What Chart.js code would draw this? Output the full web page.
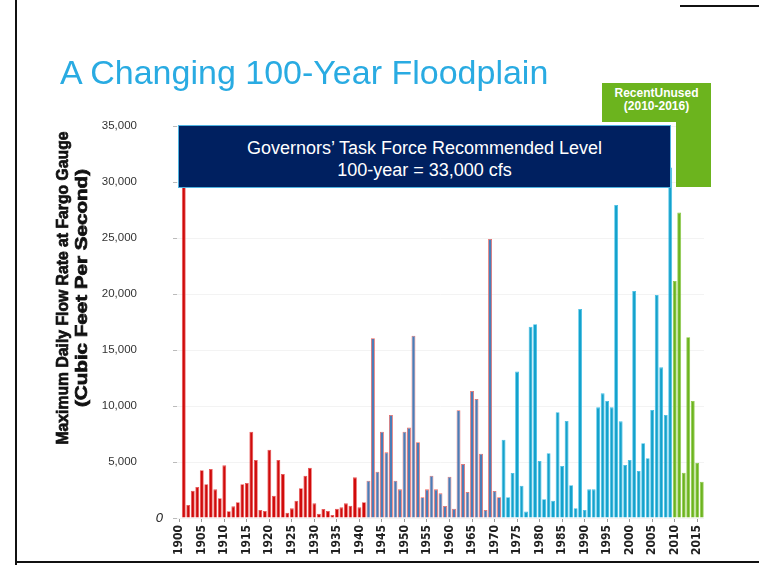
<!DOCTYPE html>
<html>
<head>
<meta charset="utf-8">
<script src="https://cdn.jsdelivr.net/npm/chart.js@4.4.1/dist/chart.umd.min.js"></script>
<style>
  html, body { margin: 0; padding: 0; background: #fff; }
  #wrap { position: relative; width: 759px; height: 565px; overflow: hidden; }
  #floodChart { position: absolute; left: 0; top: 0; }
  .title {
    position: absolute; left: 60px; top: 53px; margin: 0;
    font: 34px 'Liberation Sans', Arial, sans-serif; color: #29abe2; white-space: nowrap;
  }
  .taskForce {
    position: absolute; left: 178px; top: 125px; width: 491px; height: 61px;
    background: #002060; border: 1px solid #4fb3e0; color: #fff;
    font: 18px 'Liberation Sans', Arial, sans-serif; line-height: 22px; text-align: center;
  }
  .taskForce div:first-child { margin-top: 11px; }
  .recentTop {
    position: absolute; left: 602px; top: 83px; width: 109px; height: 39px;
    background: #6cb41e; color: #fff; text-align: center;
    font: bold 12px 'Liberation Sans', Arial, sans-serif; line-height: 13px;
  }
  .recentTop div:first-child { margin-top: 4px; }
  .recentCol { position: absolute; left: 676px; top: 83px; width: 35px; height: 104px; background: #6cb41e; }
  .frame { position: absolute; background: #111; }
</style>
</head>
<body>
<div id="wrap">
  <canvas id="floodChart" width="759" height="565"></canvas>
  <h1 class="title">A Changing 100-Year Floodplain</h1>
  <div class="taskForce">
    <div>Governors’ Task Force Recommended Level</div>
    <div>100-year = 33,000 cfs</div>
  </div>
  <div class="recentCol"></div>
  <div class="recentTop">
    <div>RecentUnused</div>
    <div>(2010-2016)</div>
  </div>
  <div class="frame" style="left:15px;top:0;width:2px;height:565px"></div>
  <div class="frame" style="left:15px;top:561px;width:744px;height:2px"></div>
  <div class="frame" style="left:680px;top:5px;width:79px;height:2px"></div>
</div>
<script>
const firstYear = 1900;
const lastYear = 2016;
const years = [];
for (let y = firstYear; y <= lastYear; y++) years.push(String(y));

// 1900-1941
const earlyValues = [
  null, 29600, 1160, 2440, 2770, 4260, 3010, 4380, 2560, 1760,
  4700, 600, 1040, 1400, 3010, 3130, 7710, 5180, 710, 620,
  6100, 1990, 5180, 3930, 470, 860, 1550, 2650, 3780, 4490,
  1310, 390, 800, 620, 270, 830, 950, 1310, 1100, 3630,
  950, 1400
];
// 1942-1971
const midValues = [
  3330, 16050, 4140, 7710, 5860, 9200, 3330, 2560, 7710, 8070,
  16280, 6760, 1850, 2560, 3780, 2560, 2200, 1070, 3690, 830,
  9620, 4820, 2320, 11340, 10630, 5740, 710, 24910, 2410, 1850
];
// 1972-2009
const lateValues = [
  6990, 1850, 4020, 13070, 2890, 570, 17080, 17300, 5090, 1670,
  5780, 1550, 9440, 4640, 8660, 2920, 870, 18660, 710, 2560,
  2560, 9880, 11130, 10450, 9880, 27950, 8630, 4730, 5180, 20270,
  4200, 6670, 5330, 9640, 19910, 13450, 9200, 31300
];
// 2010-2016
const recentValues = [21160, 27270, 4050, 16140, 10450, 4940, 3240];

const yTicks = [0, 5000, 10000, 15000, 20000, 25000, 30000, 35000];

const eras = [
  { values: earlyValues, fill: '#d00a0a', edge: '#e85050' },
  { values: midValues, fill: '#4a7db8', edge: '#f0635c' },
  { values: lateValues, fill: '#14a2cc', edge: '#3cbde6' },
  { values: recentValues, fill: '#6cb41e', edge: '#85c63c' }
];

const flowData = [];
const fills = [];
const edges = [];
eras.forEach((era) => {
  era.values.forEach((v) => {
    flowData.push(v);
    fills.push(era.fill);
    edges.push(era.edge);
  });
});

const sans = "'Liberation Sans', Arial, sans-serif";
const condensed = "'DejaVu Sans Condensed', 'Liberation Sans', sans-serif";

const extras = {
  id: 'extras',
  afterDraw(chart) {
    const ctx = chart.ctx;
    const yScale = chart.scales.y;
    ctx.save();
    // italic zero label
    ctx.fillStyle = '#222';
    ctx.font = 'italic 13px ' + sans;
    ctx.textAlign = 'right';
    ctx.textBaseline = 'middle';
    ctx.fillText('0', 163, yScale.getPixelForValue(0));

    // y axis title, two rotated lines
    const lines = ['Maximum Daily Flow Rate at Fargo Gauge', '(Cubic Feet Per Second)'];
    const widths = [313, 238];
    const xs = [64, 83];
    ctx.font = 'bold 16px ' + sans;
    ctx.fillStyle = '#111';
    ctx.strokeStyle = '#111';
    ctx.lineWidth = 0.7;
    ctx.textAlign = 'center';
    lines.forEach((t, i) => {
      const w = ctx.measureText(t).width;
      ctx.save();
      ctx.translate(xs[i], 288);
      ctx.rotate(-Math.PI / 2);
      ctx.scale(widths[i] / w, 1);
      ctx.fillText(t, 0, 0);
      ctx.strokeText(t, 0, 0);
      ctx.restore();
    });
    ctx.restore();
  }
};

new Chart(document.getElementById('floodChart'), {
  type: 'bar',
  data: {
    labels: years,
    datasets: [{
      data: flowData,
      backgroundColor: fills,
      borderColor: edges,
      borderWidth: 0.8,
      barPercentage: 0.86,
      categoryPercentage: 1
    }]
  },
  options: {
    responsive: false,
    animation: false,
    layout: { padding: { left: 0, right: 55, top: 126, bottom: 0 } },
    plugins: {
      legend: { display: false },
      tooltip: { enabled: false }
    },
    scales: {
      x: {
        afterFit: (scale) => { scale.height = 47; },
        border: { display: false },
        grid: {
          offset: false,
          drawOnChartArea: false,
          tickLength: 4,
          tickColor: (c) => (Number(years[c.index]) % 5 === 0 ? '#999' : 'rgba(0,0,0,0)')
        },
        ticks: {
          autoSkip: false,
          minRotation: 90,
          maxRotation: 90,
          padding: 3,
          color: '#222',
          font: { family: condensed, size: 12, weight: 'bold' },
          callback: (v, i) => (Number(years[i]) % 5 === 0 ? years[i] : '')
        }
      },
      y: {
        min: 0,
        max: 35000,
        afterFit: (scale) => { scale.width = 177; },
        afterBuildTicks: (scale) => { scale.ticks = yTicks.map((v) => ({ value: v })); },
        border: { display: false },
        grid: { color: '#f3f3f3', tickColor: '#bbb', tickLength: 4 },
        ticks: {
          padding: 36,
          color: '#333',
          font: { family: sans, size: 11.5 },
          callback: (v) => (v === 0 ? '' : v.toLocaleString('en-US'))
        }
      }
    }
  },
  plugins: [extras]
});
</script>
</body>
</html>
